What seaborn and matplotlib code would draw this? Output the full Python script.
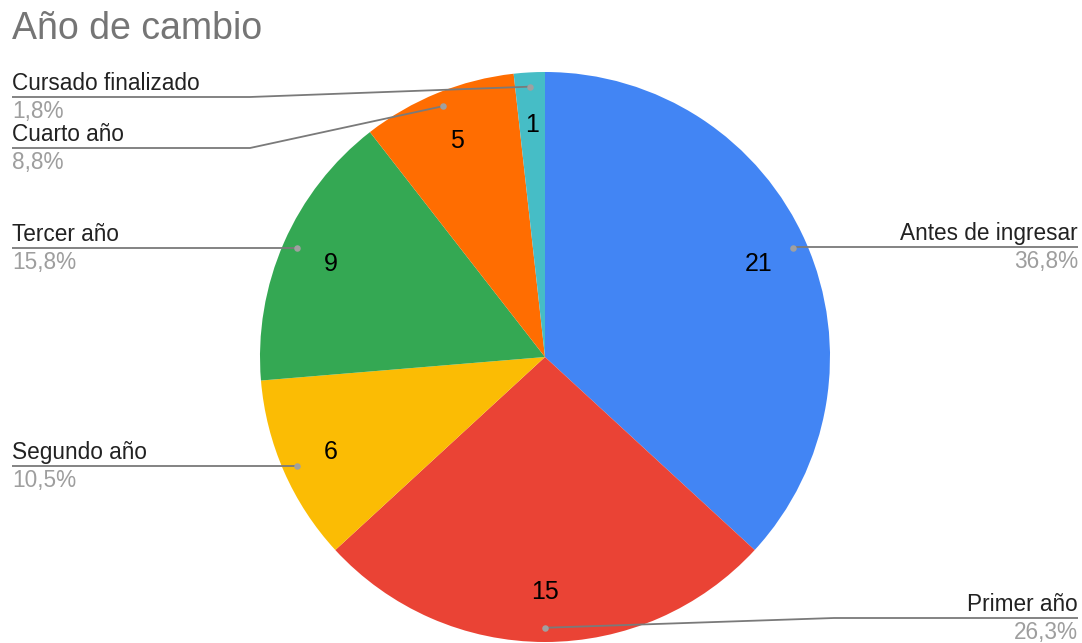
import numpy as np
import matplotlib
matplotlib.use("Agg")
import matplotlib.pyplot as plt
import seaborn as sns

# Data
categories = ["Antes de ingresar", "Primer año", "Segundo año",
              "Tercer año", "Cuarto año", "Cursado finalizado"]
counts = [21, 15, 6, 9, 5, 1]
slice_colors = ["#4285F4", "#EA4335", "#FBBC04", "#34A853", "#FF6D01", "#46BDC6"]
title = "Año de cambio"

sns.set_theme(style="white")
plt.rcParams["font.family"] = ["Liberation Sans", "DejaVu Sans"]

W, H = 1082, 643
fig = plt.figure(figsize=(W / 100, H / 100), dpi=100)
ax = fig.add_axes([0, 0, 1, 1])


def Y(y):
    # convert top-down pixel rows into the axes' upward y
    return H - y


cx, cy, R = 545, Y(357), 285

ax.pie(counts, colors=slice_colors, startangle=90, counterclock=False,
       center=(cx, cy), radius=R, wedgeprops=dict(linewidth=0))

total = sum(counts)
fracs = [c / total for c in counts]
angles = []
start = 90.0
for f in fracs:
    span = 360 * f
    angles.append(np.deg2rad(start - span / 2))
    start -= span

# value labels inside the slices
for c, a in zip(counts, angles):
    r = 0.82 * R
    ax.text(cx + r * np.cos(a), cy + r * np.sin(a) - 1, str(c),
            ha="center", va="center", fontsize=18, color="#000000")

# leader lines with category name and share
right_side = [True, True, False, False, False, False]
label_rows = [247, 618, 466, 248, 148, 97]
line_col = "#7a7a7a"
for name, f, a, right, row in zip(categories, fracs, angles, right_side, label_rows):
    r = 0.95 * R
    dx, dy = cx + r * np.cos(a), cy + r * np.sin(a)
    ly = Y(row)
    edge = 1078 if right else 12
    elbow = 834 if right else 250
    if abs(dy - ly) < 4:
        xs, ys = [dx, edge], [ly, ly]
    else:
        xs, ys = [dx, elbow, edge], [dy, ly, ly]
    ax.plot(xs, ys, color=line_col, lw=1.3, solid_capstyle="butt", zorder=3)
    ax.scatter([dx], [dy], s=22, color="#a0a0a0", zorder=4, linewidths=0)
    ha = "right" if right else "left"
    ax.text(edge, ly + 7, name, ha=ha, va="baseline", fontsize=16.3, color="#222222")
    pct = f"{f * 100:.1f}%".replace(".", ",")
    ax.text(edge, ly - 21, pct, ha=ha, va="baseline", fontsize=16.3, color="#9e9e9e")

ax.text(12, Y(39), title, ha="left", va="baseline", fontsize=27, color="#757575")

ax.set_xlim(0, W)
ax.set_ylim(0, H)
ax.set_aspect("equal")
ax.axis("off")
fig.savefig("out.png", dpi=100, facecolor="white")
